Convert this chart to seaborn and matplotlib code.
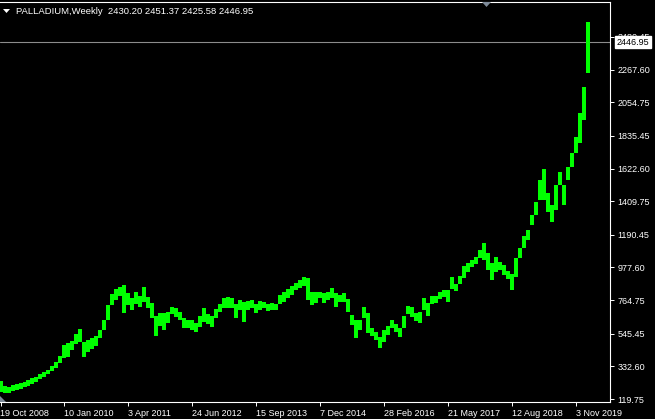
import numpy as np
import pandas as pd
import seaborn as sns
import matplotlib.pyplot as plt
from matplotlib.patches import Polygon

symbol = 'PALLADIUM,Weekly'
last_ohlc = [2430.20, 2451.37, 2425.58, 2446.95]
start_date = '2008-10-19'

# high / low of each 4-week block
highs = [237, 205, 198, 211, 218, 224, 231, 244, 257, 263, 283, 296, 309, 335, 361, 400,
         472, 485, 498, 544, 576, 491, 504, 517, 530, 570, 635, 733, 804, 837, 850, 863,
         811, 778, 817, 791, 850, 785, 746, 661, 680, 680, 687, 720, 713, 687, 648, 635,
         635, 615, 661, 713, 674, 661, 707, 739, 778, 785, 778, 739, 765, 752, 759, 765,
         739, 759, 752, 739, 746, 739, 798, 817, 837, 857, 876, 896, 915, 909, 817, 817,
         817, 811, 817, 843, 811, 798, 811, 772, 667, 635, 635, 720, 680, 583, 557, 524,
         570, 596, 635, 609, 583, 661, 726, 720, 680, 687, 778, 746, 791, 791, 817, 830,
         830, 915, 870, 922, 987, 1006, 1026, 1046, 1091, 1137, 1072, 1006, 1046, 1013, 993, 954,
         935, 1039, 1104, 1183, 1222, 1319, 1404, 1548, 1619, 1463, 1385, 1515, 1600, 1515, 1632, 1724,
         1828, 1985, 2154, 2578]
lows = [165, 159, 159, 172, 178, 185, 198, 205, 218, 231, 250, 263, 283, 302, 322, 354,
        387, 394, 439, 478, 491, 394, 426, 446, 465, 517, 570, 635, 733, 765, 791, 680,
        733, 700, 739, 720, 752, 713, 648, 530, 596, 570, 615, 674, 654, 635, 583, 583,
        570, 557, 589, 622, 609, 589, 648, 687, 713, 713, 713, 648, 700, 622, 700, 713,
        680, 700, 713, 693, 700, 700, 739, 752, 778, 798, 830, 843, 857, 765, 733, 746,
        778, 746, 765, 778, 720, 752, 752, 687, 602, 517, 570, 648, 550, 530, 504, 452,
        491, 537, 583, 557, 524, 583, 674, 654, 628, 615, 700, 661, 739, 746, 772, 785,
        752, 837, 824, 870, 909, 948, 980, 1000, 1039, 1026, 961, 896, 948, 961, 928, 902,
        830, 915, 1039, 1104, 1156, 1254, 1319, 1417, 1417, 1339, 1274, 1352, 1515, 1385, 1548, 1632,
        1724, 1789, 1939, 2245]

price_ticks = [119.75, 332.60, 545.45, 764.75, 977.60, 1190.45, 1409.75,
               1622.60, 1835.45, 2054.75, 2267.60, 2480.45]
date_labels = ['19 Oct 2008', '10 Jan 2010', '3 Apr 2011', '24 Jun 2012', '15 Sep 2013',
               '7 Dec 2014', '28 Feb 2016', '21 May 2017', '12 Aug 2018', '3 Nov 2019']

df = pd.DataFrame({
    'date': pd.date_range(start_date, periods=len(highs), freq='28D'),
    'high': highs,
    'low': lows,
})

W, H = 655, 419
sns.set_theme(style='dark', rc={
    'figure.facecolor': 'black',
    'axes.facecolor': 'black',
    'axes.edgecolor': 'white',
    'text.color': 'white',
    'xtick.color': 'white',
    'ytick.color': 'white',
})
plt.rcParams['font.family'] = ['Liberation Sans', 'DejaVu Sans']

fig = plt.figure(figsize=(W / 100, H / 100), dpi=100)
ax = fig.add_axes([0, 17 / H, 610 / W, 400 / H])

ax.bar(df['date'], df['high'] - df['low'], bottom=df['low'], width=28,
       color='#00ff00', linewidth=0, antialiased=False, zorder=3)

# last close line + price tag
ax.axhline(last_ohlc[3], color='#8c8c8c', lw=0.8, zorder=2)
ax.text(1 + 6.5 / 610, last_ohlc[3], f'{last_ohlc[3]:.2f}', transform=ax.get_yaxis_transform(),
        ha='left', va='center', color='black', fontsize=6.5, clip_on=False, zorder=10,
        bbox=dict(boxstyle='square,pad=0.2', fc='white', ec='white'))

start = pd.Timestamp(start_date)
ax.set_xlim(start - pd.Timedelta(days=3.5), start + pd.Timedelta(days=609.5 * 7))
ax.set_ylim(100.2, 2708.2)

ax.yaxis.tick_right()
ax.set_yticks(price_ticks)
ax.set_yticklabels([f'{v:.2f}' for v in price_ticks])
ax.set_xticks(pd.to_datetime(date_labels, format='%d %b %Y'))
ax.set_xticklabels(date_labels, ha='left')
ax.tick_params(axis='y', length=3, width=0.7, pad=2.5, labelsize=6.5, right=True, left=False)
ax.tick_params(axis='x', length=3, width=0.7, pad=2, labelsize=6.5, bottom=True)
ax.grid(False)
ax.set_xlabel('')
ax.set_ylabel('')

for side in ['top', 'right', 'bottom']:
    ax.spines[side].set_color('white')
    ax.spines[side].set_linewidth(0.8)
ax.spines['left'].set_visible(False)

# header
def px(x, y):
    return (x / W, 1 - y / H)

fig.add_artist(Polygon([px(3, 9), px(10, 9), px(6.5, 13)], closed=True,
                       transform=fig.transFigure, fc='white', ec='none'))
fig.text(16 / W, 1 - 11 / H, f'{symbol}  ' + ' '.join(f'{v:.2f}' for v in last_ohlc),
         color='white', fontsize=6.8, ha='left', va='center')

# shift markers
fig.add_artist(Polygon([px(482, 2), px(491, 2), px(486.5, 7)], closed=True,
                       transform=fig.transFigure, fc='#7d8a98', ec='none'))
fig.add_artist(Polygon([px(0, 396), px(0, 402), px(6, 402)], closed=True,
                       transform=fig.transFigure, fc='#7d8a98', ec='none'))

fig.savefig('out.png', dpi=100, facecolor='black')
